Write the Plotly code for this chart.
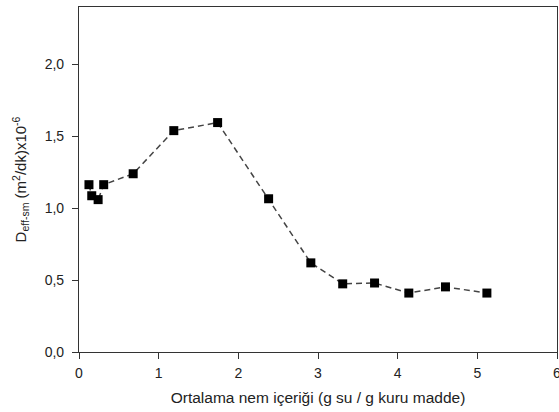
import plotly.graph_objects as go

moisture = [0.125, 0.16, 0.24, 0.31, 0.68, 1.19, 1.74, 2.38, 2.91, 3.31, 3.71, 4.14, 4.60, 5.12]
deff = [1.164, 1.087, 1.06, 1.164, 1.24, 1.54, 1.596, 1.066, 0.62, 0.474, 0.48, 0.41, 0.453, 0.41]

x_ticks = [0, 1, 2, 3, 4, 5, 6]
y_ticks = [0.0, 0.5, 1.0, 1.5, 2.0]

fig = go.Figure()
fig.add_trace(go.Scatter(
    x=moisture, y=deff, mode="lines+markers",
    line=dict(color="#444444", width=1.5, dash="6px,4px"),
    marker=dict(symbol="square", size=9, color="black"),
    showlegend=False,
))

fig.update_layout(
    width=559, height=412,
    margin=dict(l=79, r=2, t=7, b=60, autoexpand=False),
    paper_bgcolor="white", plot_bgcolor="white",
    separators=",.",
    font=dict(family="Liberation Sans, Arial, sans-serif", size=14, color="#222222"),
)
fig.update_xaxes(
    range=[0, 6], tickvals=x_ticks, ticks="outside", ticklen=6, tickcolor="#333",
    showline=True, linecolor="#333", linewidth=1.2, mirror=True, showgrid=False, zeroline=False,
    automargin=False, ticklabeloverflow="allow", ticklabelstandoff=2,
    title=dict(text="Ortalama nem içeriği (g su / g kuru madde)", font=dict(size=15.5), standoff=12),
)
fig.update_yaxes(
    range=[0, 2.4], tickvals=y_ticks, tickformat=".1f", ticks="outside", ticklen=6, tickcolor="#333",
    showline=True, linecolor="#333", linewidth=1.2, mirror=True, showgrid=False, zeroline=False,
    automargin=False, ticklabelstandoff=5,
    title=dict(text="D<sub>eff-sm</sub> (m<sup>2</sup>/dk)x10<sup>-6</sup>", font=dict(size=15), standoff=14),
)

fig.write_html("out.html", config={"displayModeBar": False},
               post_script="document.body.style.margin='0';document.body.style.overflow='hidden';")
